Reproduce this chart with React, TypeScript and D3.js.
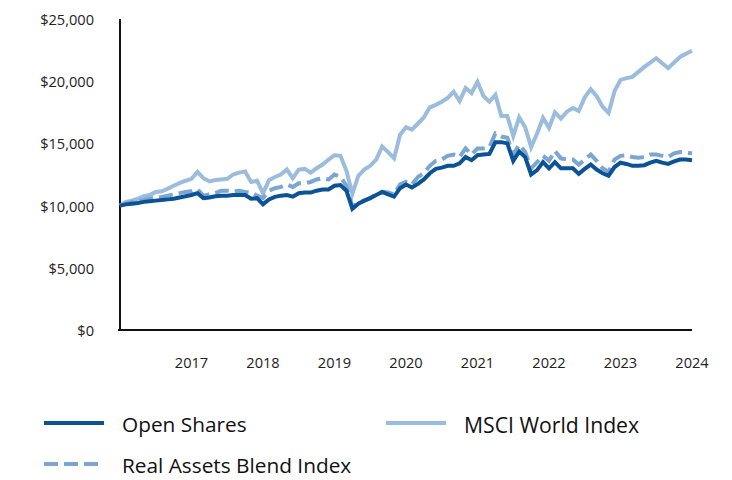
import React from "react";
import * as d3 from "d3";

const yearLabels = ["2017", "2018", "2019", "2020", "2021", "2022", "2023", "2024"];
const yTicks = [0, 5000, 10000, 15000, 20000, 25000];

const openShares = [
  10000, 10100, 10150, 10200, 10300, 10350, 10400, 10450, 10500, 10550, 10650, 10750,
  10850, 11000, 10600, 10650, 10750, 10800, 10800, 10850, 10850, 10850, 10550, 10600,
  10100, 10500, 10700, 10800, 10850, 10720, 11000, 11050, 11050, 11200, 11300, 11300,
  11600, 11650, 11200, 9750, 10150, 10400, 10600, 10850, 11100, 10900, 10720, 11400,
  11700, 11450, 11750, 12100, 12600, 12950, 13050, 13200, 13200, 13400, 13900, 13650,
  14050, 14100, 14150, 15100, 15100, 15000, 13600, 14350, 13900, 12500, 12850, 13500,
  13000, 13500, 13000, 13000, 13000, 12550, 12950, 13300, 12900, 12600, 12400, 13100,
  13450, 13350, 13200, 13200, 13250, 13450, 13600, 13450, 13350, 13550, 13700, 13700,
  13650,
];

const msciWorld = [
  10000, 10300, 10400, 10550, 10750, 10850, 11100, 11150, 11350, 11600, 11800, 12000,
  12150, 12700, 12200, 11950, 12050, 12100, 12150, 12500, 12650, 12750, 11900, 12000,
  11000, 12050, 12300, 12500, 12900, 12200, 12900, 12950, 12650, 13000, 13300, 13700,
  14050, 14000, 12800, 10950, 12400, 12900, 13200, 13700, 14750, 14300, 13800, 15700,
  16300, 16100, 16600, 17100, 17900, 18100, 18350, 18650, 19150, 18400, 19450, 19050,
  19950, 18800, 18350, 18900, 17200, 17200, 15600, 17100, 16300, 14700, 15800, 17050,
  16250, 17500, 17000, 17550, 17850, 17600, 18700, 19350, 18800, 17950, 17450, 19200,
  20100, 20250, 20350, 20750, 21150, 21500, 21850, 21450, 21050, 21500, 21950, 22200,
  22450,
];

const realAssets = [
  10000, 10150, 10300, 10350, 10450, 10550, 10650, 10700, 10800, 10900, 11000, 11100,
  11150, 11300, 10800, 10900, 11000, 11200, 11200, 11150, 11200, 11100, 11050, 10800,
  10600, 11200, 11400, 11500, 11700, 11500, 11800, 11800, 11900, 12100, 12200, 12100,
  12500, 12300, 11600, 9900, 10200, 10400, 10600, 10900, 11100, 11050, 10900, 11700,
  11900, 11700, 12300, 12600, 13200, 13600, 13700, 14000, 14100, 13900, 14600, 14100,
  14600, 14600, 14700, 15800, 15550, 15450, 14100, 14900, 14300, 13000, 13500, 14000,
  13600, 14400, 13800, 13700, 13700, 13300, 13700, 14100, 13600, 13000, 12700, 13700,
  14000, 14050, 13900, 13850, 13900, 14100, 14100, 14000, 13900, 14200, 14300, 14250,
  14200,
];

const DARK = "#0b5394";
const LIGHT = "#9bbcdc";
const MID = "#7ba6d1";
const FONT = "'Open Sans', 'Noto Sans', sans-serif";

export default function App() {
  const left = 120, right = 692, top = 19, bottom = 330;
  const x = d3.scaleLinear().domain([0, openShares.length - 1]).range([left, right]);
  const y = d3.scaleLinear().domain([0, 25000]).range([bottom, top]);
  const line = d3.line<number>().x((_, i) => x(i)).y((d) => y(d));
  const fmt = (v: number) => "$" + d3.format(",")(v);

  return (
    <svg width={732} height={480} style={{ position: "absolute", left: 0, top: 0, background: "#fff" }} fontFamily={FONT}>
      {yTicks.map((t) => (
        <text key={t} x={94} y={y(t)} textAnchor="end" dominantBaseline="central" fontSize={14.6} fill="#222">
          {fmt(t)}
        </text>
      ))}
      {yearLabels.map((lab, i) => (
        <text key={lab} x={x((i + 1) * 12)} y={362} textAnchor="middle" dominantBaseline="central" fontSize={14.6} fill="#222">
          {lab}
        </text>
      ))}
      <line x1={left} x2={left} y1={top} y2={bottom + 1} stroke="#111" strokeWidth={2} />
      <line x1={left - 2} x2={right} y1={bottom} y2={bottom} stroke="#111" strokeWidth={2} />
      <path d={line(msciWorld) || ""} fill="none" stroke={LIGHT} strokeWidth={4} />
      <path d={line(realAssets) || ""} fill="none" stroke={MID} strokeWidth={4} strokeDasharray="14 6" />
      <path d={line(openShares) || ""} fill="none" stroke={DARK} strokeWidth={4} />

      <line x1={44} x2={104} y1={423} y2={423} stroke={DARK} strokeWidth={4} />
      <text x={122} y={424} dominantBaseline="central" fontSize={20.8} fill="#111">Open Shares</text>
      <line x1={386} x2={446} y1={423} y2={423} stroke={LIGHT} strokeWidth={4} />
      <text x={464} y={424} dominantBaseline="central" fontSize={21.2} fill="#111">MSCI World Index</text>
      <line x1={44} x2={104} y1={464} y2={464} stroke={MID} strokeWidth={4} strokeDasharray="14 6" />
      <text x={122} y={465} dominantBaseline="central" fontSize={20.8} fill="#111">Real Assets Blend Index</text>
    </svg>
  );
}
